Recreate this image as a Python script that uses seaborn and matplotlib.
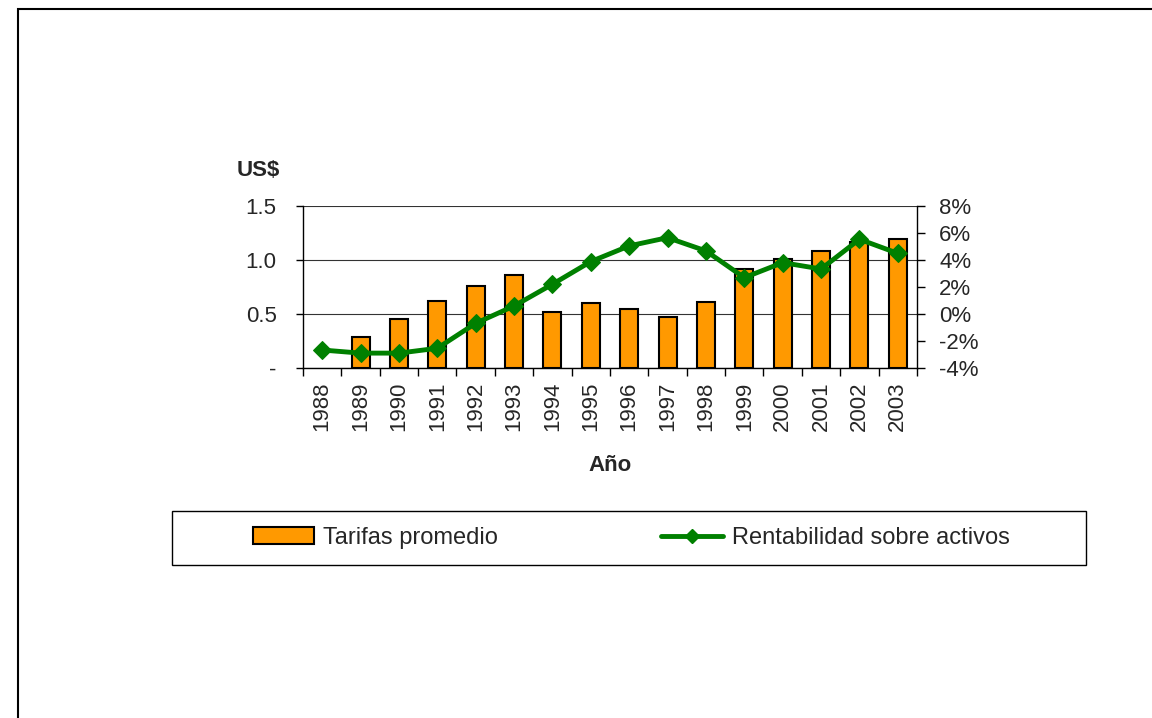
import numpy as np
import pandas as pd
import matplotlib.pyplot as plt
import seaborn as sns
from matplotlib.patches import Rectangle
from matplotlib.ticker import FuncFormatter

# Data
years = ['1988', '1989', '1990', '1991', '1992', '1993', '1994', '1995',
         '1996', '1997', '1998', '1999', '2000', '2001', '2002', '2003']
tarifas = [0.0, 0.29, 0.45, 0.62, 0.76, 0.86, 0.52, 0.60,
           0.55, 0.47, 0.61, 0.92, 1.01, 1.08, 1.17, 1.19]
rentabilidad = [-2.67, -2.9, -2.9, -2.54, -0.69, 0.59, 2.2, 3.88,
                5.04, 5.65, 4.67, 2.69, 3.8, 3.33, 5.53, 4.49]

df = pd.DataFrame({'Año': years, 'Tarifas': tarifas, 'ROA': np.array(rentabilidad) / 100})
df['pos'] = np.arange(len(df))

sns.set_style('white')
plt.rcParams['font.family'] = ['Liberation Sans', 'DejaVu Sans']
FS = 16

fig = plt.figure(figsize=(11.52, 7.18), dpi=100)
ax = fig.add_axes([0.263, 0.4875, 0.533, 0.2257])

# bars
sns.barplot(data=df, x='Año', y='Tarifas', color='#FF9900', saturation=1,
            edgecolor='black', linewidth=1.5, width=0.47, ax=ax, zorder=3)
# no visible bar for zero values
for p in ax.patches:
    if p.get_height() == 0:
        p.set_linewidth(0)
ax.set_ylim(0, 1.5)
ax.set_xlim(-0.5, len(years) - 0.5)
ax.set_yticks([0, 0.5, 1.0, 1.5])
ax.set_yticklabels(['-', '0.5', '1.0', '1.5'], fontsize=FS)
ax.yaxis.grid(True, color='#333333', linewidth=0.8)
ax.set_axisbelow(True)
ax.tick_params(axis='y', direction='out', length=5, width=1, left=True,
               color='black', pad=14)
ax.set_xticks(df['pos'])
ax.set_xticklabels(years, rotation=90, fontsize=FS)
ax.tick_params(axis='x', which='major', length=0, pad=10)
ax.set_xticks(np.arange(-0.5, len(years)), minor=True)
ax.tick_params(axis='x', which='minor', direction='out', length=6, width=1,
               bottom=True, color='black')
ax.set_ylabel('')
ax.set_xlabel('Año', fontsize=FS, fontweight='bold', labelpad=17)
for s in ['top', 'right']:
    ax.spines[s].set_visible(False)
for s in ['left', 'bottom']:
    ax.spines[s].set_color('black')
    ax.spines[s].set_linewidth(1)

# line on secondary axis
ax2 = ax.twinx()
sns.lineplot(data=df, x='pos', y='ROA', color='#008000', linewidth=3.5,
             marker='D', markersize=9, markeredgecolor='#008000', ax=ax2, zorder=4)
ax2.set_ylim(-0.04, 0.08)
ax2.set_xlim(-0.5, len(years) - 0.5)
ax2.set_yticks(np.arange(-0.04, 0.081, 0.02))
ax2.yaxis.set_major_formatter(FuncFormatter(lambda v, p: f'{round(v * 100):d}%'))
ax2.tick_params(axis='y', direction='out', length=6, width=1, right=True,
                color='black', labelsize=FS, pad=10)
ax2.set_ylabel('')
ax2.set_xlabel('')
for s in ['top', 'left', 'bottom']:
    ax2.spines[s].set_visible(False)
ax2.spines['right'].set_color('black')
ax2.spines['right'].set_linewidth(1)

fig.text(0.224, 0.763, 'US$', fontsize=FS, fontweight='bold', ha='center', va='center')

# legend
h1 = Rectangle((0, 0), 1, 1, facecolor='#FF9900', edgecolor='black', linewidth=1.5)
h2 = plt.Line2D([], [], color='#008000', linewidth=3.5, marker='D', markersize=7)
fig.legend([h1, h2], ['Tarifas promedio', 'Rentabilidad sobre activos'],
           loc='center', bbox_to_anchor=(0.548, 0.2507), ncol=2, frameon=False,
           fontsize=17, handlelength=2.6, columnspacing=6.9, handletextpad=0.4)
fig.patches.append(Rectangle((0.149, 0.213), 0.794, 0.075, transform=fig.transFigure,
                             fill=False, edgecolor='black', linewidth=1))

# outer chart border
fig.patches.append(Rectangle((18 / 1152, -0.05), 1.2, 1.05 - 9 / 718,
                             transform=fig.transFigure, fill=False,
                             edgecolor='black', linewidth=1.5))

fig.savefig('out.png', dpi=100)
